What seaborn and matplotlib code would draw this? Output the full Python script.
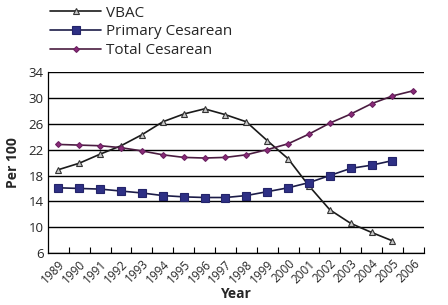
import matplotlib
matplotlib.use("Agg")
import matplotlib.pyplot as plt
import seaborn as sns
import pandas as pd

years = [str(y) for y in range(1989, 2007)]
vbac = [18.9, 19.9, 21.3, 22.6, 24.3, 26.3, 27.5, 28.3, 27.4, 26.3,
        23.4, 20.6, 16.4, 12.7, 10.6, 9.2, 7.9, None]
primary = [16.1, 16.0, 15.9, 15.6, 15.3, 14.9, 14.7, 14.6, 14.6, 14.9,
           15.5, 16.1, 16.9, 18.0, 19.1, 19.6, 20.3, None]
total = [22.8, 22.7, 22.6, 22.3, 21.8, 21.2, 20.8, 20.7, 20.8, 21.2,
         22.0, 22.9, 24.4, 26.1, 27.5, 29.1, 30.3, 31.1]
y_ticks = [6, 10, 14, 18, 22, 26, 30, 34]

sns.set_style("white")
plt.rcParams['font.family'] = ['Open Sans', 'DejaVu Sans']

df = pd.DataFrame({"Year": years, "VBAC": vbac,
                   "Primary Cesarean": primary, "Total Cesarean": total})
df["pos"] = range(len(years))

fig = plt.figure(figsize=(4.48, 3.05), dpi=100)
ax = fig.add_axes([0.107, 0.170, 0.839, 0.594])

styles = {
    "VBAC": dict(color="#1a1a1a", marker="^", markersize=5,
                 markerfacecolor="#c8c8c8", markeredgecolor="#333333"),
    "Primary Cesarean": dict(color="#1c1c48", marker="s", markersize=5.5,
                             markerfacecolor="#2e3085", markeredgecolor="#24246a"),
    "Total Cesarean": dict(color="#4a1c40", marker="D", markersize=3,
                           markerfacecolor="#8a2a78", markeredgecolor="#6a2060"),
}
for name, st in styles.items():
    sub = df.dropna(subset=[name])
    sns.lineplot(data=sub, x="pos", y=name, ax=ax, label=name,
                 linewidth=1.2, markeredgewidth=0.8, **st)

ax.set_xlim(-0.5, len(years) - 0.5)
ax.set_ylim(6, 34)
ax.set_yticks(y_ticks)
ax.yaxis.grid(True, color="black", linewidth=1.0)
ax.set_axisbelow(True)
ax.tick_params(axis="y", length=0, labelsize=9.5, pad=3)

ax.set_xticks(range(len(years)))
ax.set_xticklabels(years, rotation=45, ha="right", rotation_mode="anchor", fontsize=8.5)
ax.set_xticks([i + 0.5 for i in range(len(years))], minor=True)
ax.tick_params(axis="x", which="major", length=0, pad=3)
ax.tick_params(axis="x", which="minor", length=4, direction="in", width=0.8,
               bottom=True, color="black")

for s in ["top", "right"]:
    ax.spines[s].set_visible(False)
for s in ["left", "bottom"]:
    ax.spines[s].set_color("black")
    ax.spines[s].set_linewidth(0.9)

ax.set_xlabel("Year", fontsize=10, fontweight="bold", labelpad=1)
ax.set_ylabel("Per 100", fontsize=10, fontweight="bold", labelpad=6)

ax.legend(loc="upper left", bbox_to_anchor=(-0.012, 1.4), frameon=False,
          fontsize=11, handlelength=3.4, handletextpad=0.3, labelspacing=0.25,
          borderaxespad=0)

fig.savefig("out.png", dpi=100)
